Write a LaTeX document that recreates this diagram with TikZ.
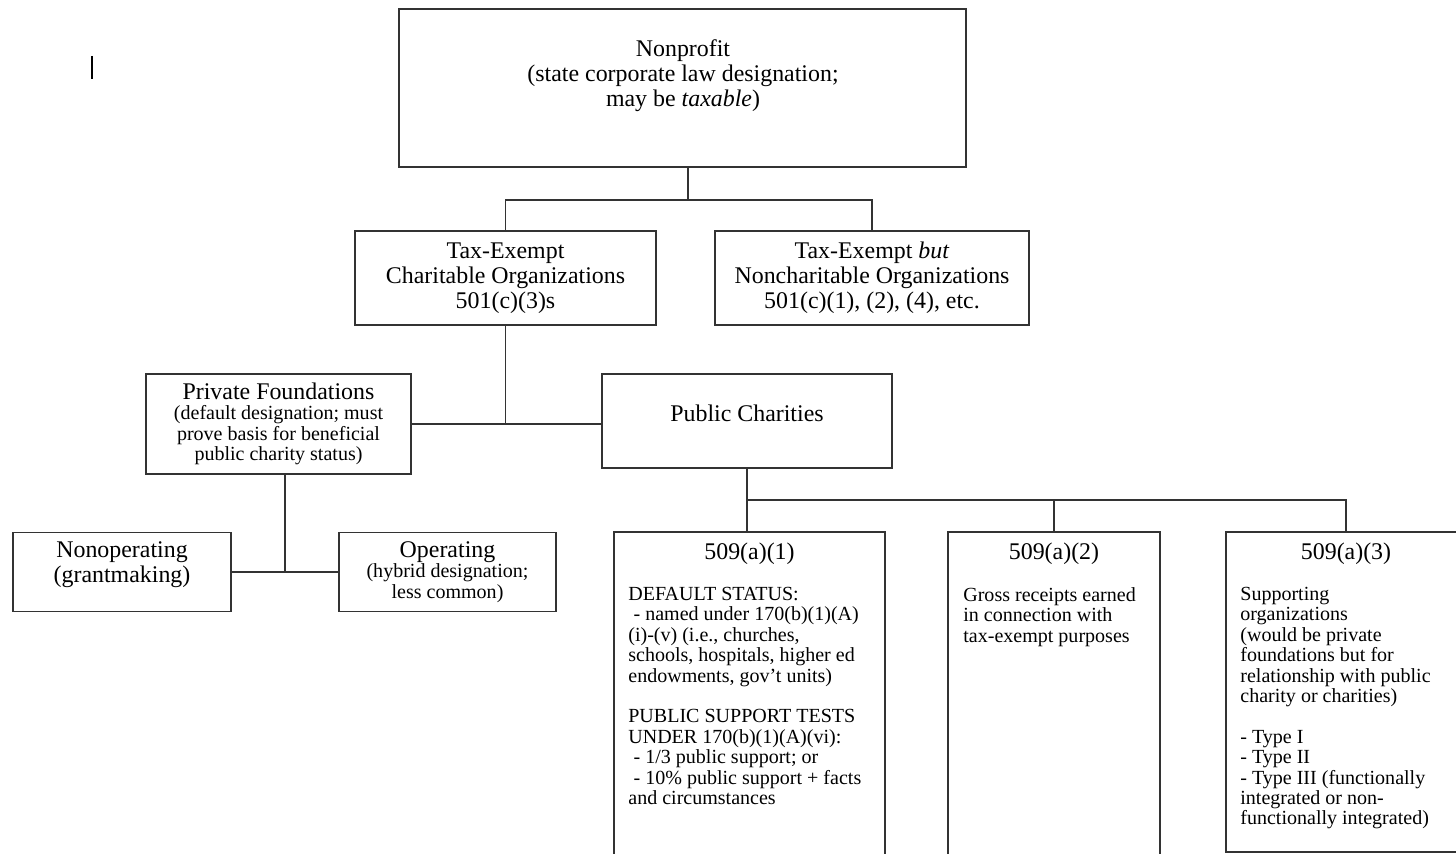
\documentclass[tikz,border=0pt]{standalone}
\usepackage{fontspec}
\setmainfont{Liberation Serif}
\usetikzlibrary{positioning}

\begin{document}
\begin{tikzpicture}[x=0.02cm,y=-0.02cm,font=\fontsize{13.6}{14.2}\selectfont]
        \tikzset{
            orgbox/.style={
                draw=black!80,
                fill=white,
                line width=0.9pt,
                align=center,
                inner sep=2pt
            },
            orgtext/.style={
                align=center,
                inner sep=0pt
            },
            orgsmall/.style={
                font=\fontsize{11.4}{11.6}\selectfont
            },
            orgbody/.style={
                orgsmall,
                align=left,
                inner sep=0pt,
                anchor=north west
            },
            orgtie/.style={
                draw=black!80,
                line width=0.9pt
            }
        }
        \useasboundingbox (0,0) rectangle (1456,854);
        \clip (0,0) rectangle (1456,854);

        \draw[line width=1.3pt] (92,56) -- (92,79);

        \node[orgbox,minimum width=11.34cm,minimum height=3.16cm] (nonprofit) at (682.5,88) {};
        \node[orgtext,anchor=north] (nonprofit-txt) at (683,39)
            {Nonprofit\\(state corporate law designation;\\may be \textit{taxable})};

        \node[orgbox,minimum width=6.02cm,minimum height=1.88cm] (charitable) at (505.5,278)
            {Tax-Exempt\\Charitable Organizations\\501(c)(3)s};
        \node[orgbox,minimum width=6.28cm,minimum height=1.88cm] (noncharitable) at (872,278)
            {Tax-Exempt \textit{but}\\Noncharitable Organizations\\501(c)(1), (2), (4), etc.};

        \node[orgbox,orgsmall,minimum width=5.3cm,minimum height=2.0cm] (privfound) at (278.5,424)
            {{\fontsize{13.6}{14.2}\selectfont Private Foundations}\\(default designation; must\\prove basis for beneficial\\public charity status)};
        \node[orgbox,minimum width=5.8cm,minimum height=1.88cm] (pubchar) at (747,421) {};
        \node[orgtext] (pubchar-txt) at (747,413) {Public Charities};

        \node[orgbox,minimum width=4.36cm,minimum height=1.58cm] (nonop) at (122,572) {};
        \node[orgtext] (nonop-txt) at (122,565) {Nonoperating\\(grantmaking)};
        \node[orgbox,orgsmall,minimum width=4.34cm,minimum height=1.58cm] (operating) at (447.5,572)
            {{\fontsize{13.6}{14.2}\selectfont Operating}\\(hybrid designation;\\less common)};

        \node[orgbox,minimum width=5.42cm,minimum height=6.96cm] (sec1) at (749.5,706) {};
        \node[orgbox,minimum width=4.24cm,minimum height=6.96cm] (sec2) at (1054,706) {};
        \node[orgbox,minimum width=4.8cm,minimum height=6.4cm] (sec3) at (1346,692) {};

        \node[orgtext,anchor=north] (sec1-head) at ([yshift=-0.22cm]sec1.north) {509(a)(1)};
        \node[orgtext,anchor=north] (sec2-head) at ([yshift=-0.22cm]sec2.north) {509(a)(2)};
        \node[orgtext,anchor=north] (sec3-head) at ([yshift=-0.22cm]sec3.north) {509(a)(3)};

        \node[orgbody] (sec1-body) at (628,587)
            {DEFAULT STATUS:\\
             \hspace{3pt}- named under 170(b)(1)(A)\\
             (i)-(v) (i.e., churches,\\
             schools, hospitals, higher ed\\
             endowments, gov’t units)\\[11.6pt]
             PUBLIC SUPPORT TESTS\\
             UNDER 170(b)(1)(A)(vi):\\
             \hspace{3pt}- 1/3 public support; or\\
             \hspace{3pt}- 10\% public support + facts\\
             and circumstances};
        \node[orgbody] (sec2-body) at (963,587)
            {Gross receipts earned\\
             in connection with\\
             tax-exempt purposes};
        \node[orgbody] (sec3-body) at (1240,587)
            {Supporting\\
             organizations\\
             (would be private\\
             foundations but for\\
             relationship with public\\
             charity or charities)\\[11.6pt]
             - Type I\\
             - Type II\\
             - Type III (functionally\\
             integrated or non-\\
             functionally integrated)};

        \coordinate (npbar) at (688,200);
        \draw[orgtie] (npbar |- nonprofit.south) -- (npbar);
        \draw[orgtie] (charitable.north) |- (npbar) -| (noncharitable.north);

        \draw[orgtie] (charitable.south) -- (charitable.south |- privfound.east);
        \draw[orgtie] (privfound.east) -- (privfound.east -| pubchar.west);

        \coordinate (pfbar) at (285,572);
        \draw[orgtie] (pfbar |- privfound.south) -- (pfbar);
        \draw[orgtie] (nonop.east) -- (operating.west);

        \coordinate (pcbar) at (747,500);
        \draw[orgtie] (pcbar |- pubchar.south) -- (pcbar) -- (pcbar |- sec1.north);
        \draw[orgtie] (pcbar) -| (sec2.north);
        \draw[orgtie] (pcbar) -| (sec3.north);
    \end{tikzpicture}
\end{document}
